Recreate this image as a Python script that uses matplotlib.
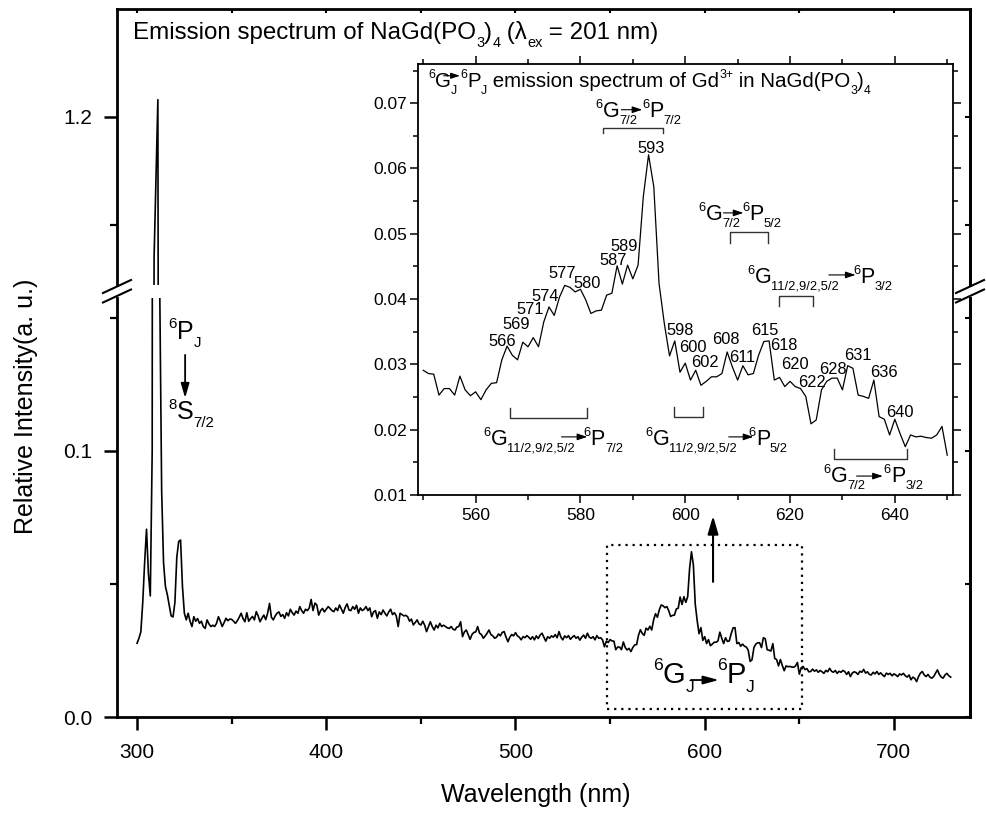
import numpy as np
import matplotlib
matplotlib.use("Agg")
import matplotlib.pyplot as plt
from matplotlib.patches import Rectangle
from matplotlib.lines import Line2D
from matplotlib.transforms import Affine2D
from matplotlib.font_manager import FontProperties

FONT = "Liberation Sans"
plt.rcParams["font.family"] = [FONT, "DejaVu Sans"]

# emission spectrum, 1 nm steps
wl_uv = np.arange(300, 330)
int_uv = [0.0277, 0.0296, 0.0320, 0.0430, 0.0580, 0.0706, 0.0540, 0.0455, 0.1000, 1.0700,
          1.1450, 1.2160, 0.1600, 0.0850, 0.0580, 0.0490, 0.0460, 0.0420, 0.0380, 0.0376,
          0.0430, 0.0600, 0.0660, 0.0665, 0.0490, 0.0390, 0.0365, 0.0390, 0.0360, 0.0340]

wl_band = np.arange(330, 550)
int_band = [0.0377, 0.0360, 0.0370, 0.0352, 0.0360, 0.0340, 0.0333, 0.0365, 0.0350, 0.0340,
            0.0345, 0.0340, 0.0352, 0.0377, 0.0360, 0.0340, 0.0355, 0.0371, 0.0362, 0.0368,
            0.0367, 0.0360, 0.0352, 0.0362, 0.0375, 0.0390, 0.0370, 0.0358, 0.0392, 0.0360,
            0.0370, 0.0378, 0.0365, 0.0396, 0.0380, 0.0358, 0.0372, 0.0383, 0.0366, 0.0390,
            0.0427, 0.0375, 0.0365, 0.0380, 0.0390, 0.0395, 0.0378, 0.0385, 0.0371, 0.0392,
            0.0380, 0.0405, 0.0392, 0.0383, 0.0398, 0.0390, 0.0415, 0.0400, 0.0390, 0.0405,
            0.0400, 0.0410, 0.0442, 0.0400, 0.0428, 0.0421, 0.0383, 0.0400, 0.0408, 0.0395,
            0.0405, 0.0415, 0.0408, 0.0400, 0.0396, 0.0410, 0.0400, 0.0421, 0.0405, 0.0390,
            0.0412, 0.0425, 0.0402, 0.0400, 0.0415, 0.0405, 0.0420, 0.0390, 0.0410, 0.0400,
            0.0405, 0.0415, 0.0400, 0.0410, 0.0377, 0.0395, 0.0400, 0.0371, 0.0395, 0.0385,
            0.0402, 0.0390, 0.0380, 0.0395, 0.0405, 0.0385, 0.0392, 0.0380, 0.0340, 0.0390,
            0.0385, 0.0380, 0.0382, 0.0377, 0.0360, 0.0368, 0.0346, 0.0355, 0.0365, 0.0350,
            0.0346, 0.0360, 0.0345, 0.0321, 0.0340, 0.0358, 0.0340, 0.0327, 0.0345, 0.0335,
            0.0352, 0.0340, 0.0345, 0.0340, 0.0335, 0.0333, 0.0340, 0.0330, 0.0327, 0.0338,
            0.0340, 0.0358, 0.0302, 0.0320, 0.0327, 0.0310, 0.0292, 0.0310, 0.0318, 0.0320,
            0.0340, 0.0315, 0.0310, 0.0296, 0.0305, 0.0315, 0.0327, 0.0310, 0.0305, 0.0296,
            0.0300, 0.0312, 0.0305, 0.0318, 0.0321, 0.0300, 0.0283, 0.0300, 0.0310, 0.0305,
            0.0317, 0.0305, 0.0300, 0.0290, 0.0302, 0.0298, 0.0306, 0.0300, 0.0292, 0.0302,
            0.0290, 0.0305, 0.0295, 0.0308, 0.0315, 0.0300, 0.0285, 0.0302, 0.0296, 0.0305,
            0.0300, 0.0310, 0.0298, 0.0321, 0.0300, 0.0290, 0.0305, 0.0298, 0.0306, 0.0292,
            0.0300, 0.0306, 0.0296, 0.0302, 0.0289, 0.0300, 0.0308, 0.0296, 0.0315, 0.0300,
            0.0296, 0.0302, 0.0290, 0.0306, 0.0296, 0.0298, 0.0290, 0.0264, 0.0285, 0.0280]

wl_gd = np.arange(550, 651)
int_gd = [0.0291, 0.0286, 0.0285, 0.0253, 0.0263, 0.0263, 0.0253, 0.0282, 0.0261, 0.0252,
          0.0258, 0.0246, 0.0261, 0.0271, 0.0272, 0.0307, 0.0328, 0.0314, 0.0307, 0.0334,
          0.0327, 0.0341, 0.0327, 0.0365, 0.0388, 0.0375, 0.0403, 0.0421, 0.0418, 0.0411,
          0.0415, 0.0399, 0.0378, 0.0382, 0.0383, 0.0406, 0.0409, 0.0451, 0.0423, 0.0452,
          0.0431, 0.0452, 0.0557, 0.0621, 0.0572, 0.0424, 0.0363, 0.0313, 0.0336, 0.0288,
          0.0302, 0.0276, 0.0291, 0.0268, 0.0274, 0.0281, 0.0281, 0.0286, 0.0319, 0.0296,
          0.0276, 0.0298, 0.0284, 0.0286, 0.0314, 0.0335, 0.0336, 0.0276, 0.0280, 0.0266,
          0.0274, 0.0266, 0.0263, 0.0251, 0.0209, 0.0215, 0.0261, 0.0274, 0.0279, 0.0279,
          0.0261, 0.0298, 0.0294, 0.0253, 0.0251, 0.0248, 0.0276, 0.0220, 0.0216, 0.0192,
          0.0216, 0.0194, 0.0174, 0.0192, 0.0189, 0.0190, 0.0188, 0.0187, 0.0192, 0.0205,
          0.0161]

wl_tail = np.arange(651, 731)
int_tail = [0.0185, 0.0190, 0.0178, 0.0182, 0.0170, 0.0171, 0.0180, 0.0172, 0.0177, 0.0168,
            0.0175, 0.0170, 0.0164, 0.0175, 0.0170, 0.0183, 0.0172, 0.0168, 0.0175, 0.0164,
            0.0172, 0.0168, 0.0175, 0.0171, 0.0160, 0.0170, 0.0152, 0.0165, 0.0170, 0.0167,
            0.0160, 0.0172, 0.0168, 0.0179, 0.0165, 0.0170, 0.0160, 0.0158, 0.0168, 0.0162,
            0.0171, 0.0160, 0.0166, 0.0158, 0.0152, 0.0165, 0.0160, 0.0164, 0.0155, 0.0162,
            0.0158, 0.0152, 0.0162, 0.0158, 0.0164, 0.0155, 0.0150, 0.0158, 0.0140, 0.0150,
            0.0145, 0.0133, 0.0152, 0.0165, 0.0171, 0.0158, 0.0152, 0.0160, 0.0150, 0.0146,
            0.0152, 0.0165, 0.0177, 0.0160, 0.0150, 0.0146, 0.0158, 0.0164, 0.0155, 0.0150]

peak_nm = [566, 569, 571, 574, 577, 580, 587, 589, 593, 598, 600,
           602, 608, 611, 615, 618, 620, 622, 628, 631, 636, 640]

wl = np.concatenate([wl_uv, wl_band, wl_gd, wl_tail])
inten = np.concatenate([int_uv, int_band, int_gd, int_tail])

W, H = 986, 813
fig = plt.figure(figsize=(W / 100, H / 100), dpi=100)
px = Affine2D().scale(1 / W, -1 / H).translate(0, 1) + fig.transFigure


def box(l, t, r, b):
    return [l / W, 1 - b / H, (r - l) / W, (b - t) / H]


ax_lo = fig.add_axes(box(117, 298, 970, 717))
ax_hi = fig.add_axes(box(117, 9, 970, 285))

for ax in (ax_lo, ax_hi):
    ax.plot(wl, inten, color="k", lw=1.2)
    ax.set_xlim(289.4, 740.2)
    for s in ax.spines.values():
        s.set_linewidth(2.0)
ax_lo.set_ylim(0, 0.1575)
ax_hi.set_ylim(1.0444, 1.3)
ax_lo.spines["top"].set_visible(False)
ax_hi.spines["bottom"].set_visible(False)

ax_lo.set_xticks([300, 400, 500, 600, 700])
ax_lo.set_xticks([350, 450, 550, 650], minor=True)
ax_lo.set_yticks([0.0, 0.1])
ax_lo.set_yticklabels(["0.0", "0.1"])
ax_lo.set_yticks([0.05, 0.15], minor=True)
ax_lo.tick_params(axis="x", which="both", top=False, direction="out", labelsize=15, pad=9)
ax_lo.tick_params(axis="y", which="both", right=False, direction="out", labelsize=15, pad=8)
ax_lo.tick_params(which="major", length=9.5, width=1.8)
ax_lo.tick_params(which="minor", length=5, width=1.6)

ax_hi.set_xticks([300, 400, 500, 600, 700])
ax_hi.set_xticks([350, 450, 550, 650], minor=True)
ax_hi.set_yticks([1.2])
ax_hi.set_yticklabels(["1.2"])
ax_hi.set_yticks([1.1], minor=True)
ax_hi.tick_params(axis="x", which="both", bottom=False, labelbottom=False, top=True,
                  direction="in", length=3, width=1.5)
ax_hi.tick_params(axis="y", which="both", right=False, direction="out", labelsize=15, pad=8)
ax_hi.tick_params(axis="y", which="major", length=9.5, width=1.8)
ax_hi.tick_params(axis="y", which="minor", length=5, width=1.6)

for ax, maj, mnr in ((ax_lo, [0.0, 0.1], [0.05, 0.15]), (ax_hi, [1.2], [1.1])):
    sec = ax.secondary_yaxis("right")
    sec.set_yticks(maj)
    sec.set_yticks(mnr, minor=True)
    sec.tick_params(which="both", direction="in", length=3.5, width=1.5, labelright=False)
    sec.spines["right"].set_linewidth(2.0)

# axis break marks
for yc in (286.5, 296):
    for xc in (117, 970):
        fig.add_artist(Line2D([xc - 14, xc + 14], [yc + 6.5, yc - 6.5], transform=px,
                              color="k", lw=1.5))

fig.text(26 / W, 1 - 406 / H, "Relative Intensity(a. u.)", rotation=90,
         ha="center", va="center", fontsize=18)
fig.text(536 / W, 1 - 802 / H, "Wavelength (nm)", ha="center", va="baseline", fontsize=18)


def rich(ax, x, y, parts, size):
    r = fig.canvas.get_renderer()
    dx = 0.0
    for s, kind in parts:
        scale, rise = {"n": (1.0, 0.0), "sup": (0.6, 0.42), "sub": (0.6, -0.33)}[kind]
        fs = size * scale
        ax.annotate(s, (x, y), xytext=(dx, rise * size), textcoords="offset points",
                    fontsize=fs, ha="left", va="baseline", annotation_clip=False)
        w, _, _ = r.get_text_width_height_descent(s, FontProperties(family=FONT, size=fs),
                                                  ismath=False)
        dx += w * 72.0 / fig.dpi


def arrow(ax, x0, y0, x1, y1, lw=1.0, ms=10, hl=0.5, hw=0.18):
    ax.annotate("", xy=(x1, y1), xytext=(x0, y0), annotation_clip=False,
                arrowprops=dict(arrowstyle=f"-|>,head_length={hl},head_width={hw}",
                                color="k", lw=lw, mutation_scale=ms, shrinkA=0, shrinkB=0))


rich(ax_hi, 297.9, 1.2722, [("Emission spectrum of NaGd(PO", "n"), ("3", "sub"), (")", "n"),
                            ("4", "sub"), (" (λ", "n"), ("ex", "sub"), (" = 201 nm)", "n")], 17.4)

rich(ax_lo, 316.5, 0.1421, [("6", "sup"), ("P", "n"), ("J", "sub")], 18)
arrow(ax_lo, 325.4, 0.1361, 325.4, 0.1199, lw=1.3, ms=14, hl=0.62, hw=0.18)
rich(ax_lo, 316.5, 0.1120, [("8", "sup"), ("S", "n"), ("7/2", "sub")], 18)

rich(ax_lo, 572.7, 0.0129, [("6", "sup"), ("G", "n"), ("J", "sub")], 21)
arrow(ax_lo, 592.7, 0.0139, 607.5, 0.0139, lw=1.3, ms=14, hl=0.67, hw=0.18)
rich(ax_lo, 606.5, 0.0129, [("6", "sup"), ("P", "n"), ("J", "sub")], 21)

ax_lo.add_patch(Rectangle((548.2, 0.003), 103.0, 0.0617, fill=False, color="k",
                          lw=1.6, ls=(0, (1, 2.2))))
arrow(ax_lo, 604.4, 0.0508, 604.4, 0.0756, lw=1.5, ms=16, hl=0.68, hw=0.2)

# inset: Gd3+ 6G -> 6P region
ax_in = fig.add_axes(box(418, 64, 953, 495))
ax_in.set_facecolor("white")
ax_in.plot(wl_gd, int_gd, color="k", lw=0.9)
ax_in.set_xlim(549, 651.1)
ax_in.set_ylim(0.01, 0.076)
ax_in.set_xticks([560, 580, 600, 620, 640])
ax_in.set_xticks([550, 570, 590, 610, 630, 650], minor=True)
ax_in.set_yticks([0.01, 0.02, 0.03, 0.04, 0.05, 0.06, 0.07])
ax_in.set_yticklabels(["0.01", "0.02", "0.03", "0.04", "0.05", "0.06", "0.07"])
ax_in.set_yticks([0.015, 0.025, 0.035, 0.045, 0.055, 0.065, 0.075], minor=True)
ax_in.tick_params(which="both", top=True, right=True, direction="out", labelsize=12.5, width=1.1)
ax_in.tick_params(axis="x", pad=3.5)
ax_in.tick_params(axis="y", pad=2.5)
ax_in.tick_params(which="major", length=5.5)
ax_in.tick_params(which="minor", length=3.5)
for s in ax_in.spines.values():
    s.set_linewidth(1.3)

rich(ax_in, 550.96, 0.0725, [("6", "sup"), ("G", "n"), ("J", "sub")], 14.8)
arrow(ax_in, 553.9, 0.0742, 557.0, 0.0742, lw=0.8, ms=9, hl=0.6, hw=0.2)
rich(ax_in, 557.1, 0.0725, [("6", "sup"), ("P", "n"), ("J", "sub"),
                            (" emission spectrum of Gd", "n"), ("3+", "sup"),
                            (" in NaGd(PO", "n"), ("3", "sub"), (")", "n"), ("4", "sub")], 14.8)

label_pos = [(565.1, 0.0328), (567.8, 0.0354), (570.4, 0.0377), (573.3, 0.0397),
             (576.6, 0.0432), (581.3, 0.0417), (586.3, 0.0452), (588.4, 0.0474),
             (593.4, 0.0624), (599.1, 0.0345), (601.4, 0.0319), (603.7, 0.0296),
             (607.7, 0.0331), (610.9, 0.0304), (615.1, 0.0345), (618.8, 0.0322),
             (620.9, 0.0293), (624.1, 0.0265), (628.1, 0.0285), (632.9, 0.0307),
             (637.9, 0.0281), (640.9, 0.0219)]
for nm, (lx, ly) in zip(peak_nm, label_pos):
    ax_in.text(lx, ly, str(nm), ha="center", va="baseline", fontsize=11.8)

# transition labels: G start, arrow start, arrow end, P start, baseline, arrow y
transitions = [
    (582.9, 587.8, 591.8, 591.8, 0.0679, 0.0690, "7/2", "7/2"),
    (602.5, 607.3, 611.1, 610.9, 0.0521, 0.0532, "7/2", "5/2"),
    (611.9, 627.4, 632.5, 632.0, 0.0425, 0.0437, "11/2,9/2,5/2", "3/2"),
    (561.5, 576.4, 581.3, 580.6, 0.0177, 0.0189, "11/2,9/2,5/2", "7/2"),
    (592.4, 608.3, 613.0, 612.1, 0.0177, 0.0189, "11/2,9/2,5/2", "5/2"),
    (626.4, 632.7, 637.7, 637.9, 0.0120, 0.0129, "7/2", "3/2"),
]
for xg, xa0, xa1, xp, yb, ya, sg, sp in transitions:
    rich(ax_in, xg, yb, [("6", "sup"), ("G", "n"), (sg, "sub")], 15.5)
    arrow(ax_in, xa0, ya, xa1, ya, lw=0.8, ms=10, hl=0.6, hw=0.2)
    rich(ax_in, xp, yb, [("6", "sup"), ("P", "n"), (sp, "sub")], 15.5)

brackets = [(584.4, 595.8, 0.0662, -0.0008), (608.6, 615.7, 0.0503, -0.0017),
            (617.8, 624.3, 0.0405, -0.0015), (566.6, 581.3, 0.0218, 0.0015),
            (597.8, 603.3, 0.0219, 0.0015), (628.3, 642.3, 0.0155, 0.0015)]
for x0, x1, yb, leg in brackets:
    ax_in.plot([x0, x0, x1, x1], [yb + leg, yb, yb, yb + leg], color="#333333", lw=1.0)

fig.savefig("out.png", dpi=100)
